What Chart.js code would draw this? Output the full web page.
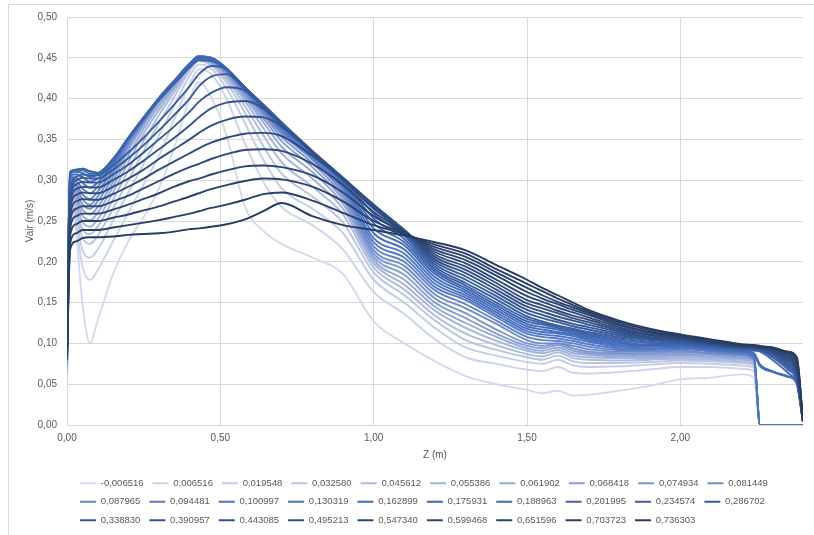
<!DOCTYPE html>
<html>
<head>
<meta charset="utf-8">
<script src="https://cdn.jsdelivr.net/npm/chart.js@4.4.1/dist/chart.umd.min.js"></script>
<style>
  html, body { margin: 0; padding: 0; background: #ffffff; overflow: hidden; }
  #wrap { position: relative; width: 814px; height: 535px; }
  #frame { position: absolute; left: 8px; top: 4px; width: 820px; height: 560px; border: 1px solid #d9d9d9; box-sizing: border-box; pointer-events: none; }
  canvas { position: absolute; left: 0; top: 0; }
</style>
</head>
<body>
<div id="wrap">
  <div id="frame"></div>
  <canvas id="c" width="814" height="535"></canvas>
</div>
<script>
// Z positions (m) shared by all series
const Z = [0, 0.01, 0.03, 0.05, 0.075, 0.1, 0.15, 0.2, 0.25, 0.3, 0.35, 0.4, 0.43, 0.47, 0.52, 0.58, 0.64, 0.7, 0.8, 0.9, 1.0, 1.1, 1.2, 1.3, 1.4, 1.5, 1.55, 1.6, 1.65, 1.7, 1.8, 1.9, 2.0, 2.1, 2.2, 2.24, 2.26, 2.3, 2.35, 2.38, 2.4];

// Series labels (legend)
const LABELS = ['-0,006516','0,006516','0,019548','0,032580','0,045612','0,055386','0,061902','0,068418','0,074934','0,081449',
  '0,087965','0,094481','0,100997','0,130319','0,162899','0,175931','0,188963','0,201995','0,234574','0,286702',
  '0,338830','0,390957','0,443085','0,495213','0,547340','0,599468','0,651596','0,703723','0,736303'];

// Vair (m/s) per series
const v00 = [0.050,0.270,0.235,0.150,0.100,0.128,0.185,0.225,0.255,0.290,0.340,0.400,0.420,0.402,0.355,0.268,0.238,0.222,0.205,0.185,0.127,0.100,0.078,0.060,0.050,0.043,0.039,0.042,0.036,0.037,0.042,0.048,0.056,0.058,0.062,0.058,0,0,0,0,0];
const v01 = [0.055,0.275,0.245,0.195,0.178,0.190,0.225,0.260,0.295,0.330,0.375,0.418,0.436,0.430,0.400,0.345,0.298,0.267,0.245,0.215,0.163,0.136,0.105,0.083,0.075,0.068,0.066,0.071,0.064,0.063,0.065,0.068,0.071,0.071,0.069,0.066,0,0,0,0,0];
const v02 = [0.060,0.278,0.252,0.215,0.205,0.215,0.250,0.285,0.320,0.355,0.392,0.428,0.442,0.437,0.413,0.370,0.325,0.290,0.265,0.235,0.178,0.150,0.119,0.095,0.085,0.077,0.075,0.080,0.073,0.071,0.072,0.074,0.076,0.075,0.073,0.070,0,0,0,0,0];
const v03 = [0.062,0.280,0.258,0.230,0.222,0.232,0.265,0.300,0.336,0.370,0.402,0.434,0.446,0.441,0.420,0.383,0.342,0.308,0.280,0.248,0.187,0.159,0.128,0.104,0.092,0.083,0.080,0.085,0.078,0.076,0.076,0.077,0.079,0.078,0.076,0.073,0,0,0,0,0];
const v04 = [0.065,0.283,0.264,0.240,0.234,0.243,0.276,0.312,0.348,0.380,0.408,0.437,0.448,0.443,0.424,0.391,0.355,0.322,0.292,0.258,0.193,0.166,0.134,0.112,0.098,0.087,0.084,0.089,0.082,0.080,0.079,0.080,0.081,0.080,0.078,0.075,0,0,0,0,0];
const v05 = [0.068,0.286,0.270,0.249,0.243,0.252,0.285,0.322,0.357,0.386,0.412,0.439,0.449,0.444,0.427,0.397,0.364,0.333,0.302,0.265,0.198,0.172,0.140,0.119,0.103,0.091,0.088,0.092,0.085,0.083,0.082,0.082,0.083,0.082,0.080,0.077,0,0,0,0,0];
const v06 = [0.070,0.289,0.276,0.257,0.251,0.260,0.292,0.330,0.363,0.391,0.415,0.440,0.450,0.445,0.429,0.401,0.371,0.341,0.310,0.271,0.202,0.178,0.145,0.125,0.108,0.094,0.091,0.095,0.088,0.086,0.084,0.084,0.085,0.084,0.082,0.079,0,0,0,0,0];
const v07 = [0.072,0.292,0.281,0.264,0.258,0.267,0.298,0.337,0.368,0.395,0.418,0.441,0.451,0.446,0.431,0.404,0.376,0.348,0.316,0.276,0.206,0.184,0.150,0.131,0.112,0.097,0.094,0.098,0.091,0.088,0.086,0.086,0.087,0.086,0.083,0.080,0,0,0,0,0];
const v08 = [0.075,0.295,0.286,0.271,0.265,0.274,0.304,0.342,0.371,0.398,0.420,0.442,0.451,0.447,0.432,0.406,0.380,0.353,0.321,0.280,0.210,0.190,0.155,0.137,0.117,0.100,0.097,0.100,0.094,0.090,0.088,0.088,0.089,0.088,0.085,0.082,0,0,0,0,0];
const v09 = [0.078,0.298,0.291,0.277,0.270,0.280,0.309,0.345,0.372,0.399,0.421,0.443,0.452,0.448,0.433,0.408,0.383,0.357,0.325,0.284,0.214,0.195,0.160,0.143,0.124,0.104,0.100,0.100,0.097,0.093,0.090,0.090,0.091,0.088,0.086,0.080,0,0,0,0,0];
const v10 = [0.080,0.300,0.295,0.283,0.277,0.286,0.313,0.347,0.374,0.400,0.422,0.443,0.452,0.449,0.434,0.409,0.385,0.360,0.327,0.288,0.219,0.200,0.165,0.148,0.128,0.108,0.104,0.103,0.100,0.096,0.092,0.092,0.093,0.090,0.087,0.082,0,0,0,0,0];
const v11 = [0.082,0.302,0.299,0.290,0.284,0.292,0.317,0.349,0.375,0.401,0.422,0.443,0.452,0.450,0.435,0.410,0.387,0.362,0.329,0.291,0.224,0.205,0.169,0.153,0.132,0.112,0.108,0.106,0.103,0.099,0.094,0.093,0.094,0.091,0.088,0.083,0,0,0,0,0];
const v12 = [0.085,0.304,0.303,0.297,0.291,0.297,0.320,0.350,0.376,0.401,0.422,0.443,0.452,0.450,0.436,0.411,0.388,0.364,0.331,0.294,0.229,0.210,0.173,0.156,0.135,0.115,0.111,0.109,0.106,0.102,0.096,0.094,0.095,0.092,0.089,0.085,0,0,0,0,0];
const v13 = [0.088,0.306,0.307,0.304,0.298,0.302,0.322,0.351,0.377,0.401,0.422,0.442,0.451,0.450,0.437,0.412,0.389,0.366,0.332,0.296,0.235,0.215,0.177,0.159,0.138,0.118,0.114,0.112,0.109,0.104,0.098,0.096,0.096,0.093,0.090,0.086,0.072,0.065,0.059,0.050,0.004];
const v14 = [0.090,0.308,0.310,0.309,0.304,0.306,0.324,0.352,0.377,0.400,0.421,0.442,0.451,0.450,0.437,0.413,0.390,0.368,0.333,0.298,0.241,0.220,0.181,0.162,0.141,0.121,0.117,0.114,0.111,0.106,0.100,0.097,0.097,0.094,0.091,0.088,0.074,0.066,0.060,0.052,0.004];
const v15 = [0.092,0.309,0.312,0.312,0.308,0.308,0.325,0.352,0.377,0.400,0.421,0.441,0.450,0.449,0.437,0.414,0.391,0.369,0.334,0.300,0.247,0.224,0.185,0.165,0.144,0.124,0.120,0.117,0.113,0.108,0.102,0.098,0.098,0.095,0.092,0.091,0.090,0.080,0.064,0.050,0.004];
const v16 = [0.094,0.310,0.313,0.314,0.311,0.309,0.326,0.352,0.376,0.399,0.420,0.440,0.449,0.448,0.437,0.414,0.392,0.370,0.335,0.301,0.253,0.228,0.188,0.168,0.147,0.127,0.123,0.119,0.115,0.110,0.104,0.100,0.099,0.096,0.093,0.092,0.091,0.083,0.068,0.053,0.004];
const v17 = [0.096,0.310,0.313,0.314,0.311,0.309,0.326,0.351,0.375,0.398,0.418,0.438,0.447,0.446,0.436,0.414,0.393,0.371,0.336,0.302,0.259,0.232,0.191,0.171,0.150,0.130,0.125,0.121,0.117,0.112,0.106,0.102,0.100,0.097,0.0935,0.0925,0.092,0.085,0.070,0.056,0.004];
const v18 = [0.100,0.285,0.304,0.307,0.306,0.306,0.318,0.334,0.352,0.372,0.393,0.415,0.430,0.440,0.436,0.413,0.391,0.369,0.334,0.300,0.266,0.235,0.194,0.174,0.154,0.133,0.127,0.122,0.118,0.114,0.108,0.104,0.101,0.097,0.094,0.093,0.092,0.086,0.072,0.055,0.004];
const v19 = [0.098,0.280,0.300,0.303,0.302,0.302,0.313,0.327,0.343,0.361,0.380,0.400,0.415,0.427,0.430,0.412,0.391,0.369,0.334,0.301,0.268,0.237,0.197,0.178,0.158,0.137,0.131,0.126,0.121,0.117,0.110,0.105,0.102,0.098,0.094,0.093,0.092,0.087,0.074,0.058,0.004];
const v20 = [0.096,0.274,0.295,0.298,0.297,0.297,0.307,0.319,0.334,0.350,0.366,0.384,0.396,0.407,0.414,0.410,0.390,0.369,0.335,0.302,0.270,0.238,0.200,0.182,0.162,0.141,0.135,0.129,0.124,0.120,0.112,0.106,0.103,0.098,0.095,0.094,0.093,0.088,0.076,0.061,0.004];
const v21 = [0.094,0.268,0.289,0.292,0.291,0.291,0.300,0.311,0.324,0.338,0.352,0.367,0.377,0.388,0.395,0.397,0.388,0.368,0.335,0.303,0.270,0.239,0.203,0.186,0.166,0.145,0.139,0.133,0.128,0.123,0.114,0.107,0.104,0.099,0.095,0.094,0.093,0.089,0.078,0.064,0.004];
const v22 = [0.092,0.262,0.282,0.285,0.284,0.284,0.292,0.302,0.313,0.326,0.338,0.350,0.358,0.367,0.374,0.378,0.377,0.366,0.334,0.303,0.268,0.239,0.206,0.190,0.170,0.149,0.143,0.137,0.131,0.126,0.116,0.108,0.105,0.100,0.096,0.095,0.094,0.090,0.080,0.067,0.004];
const v23 = [0.090,0.255,0.274,0.277,0.276,0.276,0.283,0.292,0.302,0.313,0.323,0.333,0.339,0.346,0.352,0.357,0.358,0.354,0.330,0.301,0.265,0.238,0.209,0.194,0.174,0.153,0.147,0.140,0.134,0.129,0.118,0.110,0.106,0.100,0.096,0.095,0.094,0.091,0.082,0.070,0.004];
const v24 = [0.088,0.248,0.265,0.268,0.268,0.268,0.274,0.281,0.290,0.299,0.308,0.316,0.320,0.326,0.332,0.337,0.338,0.336,0.320,0.294,0.261,0.237,0.212,0.198,0.178,0.158,0.151,0.144,0.138,0.132,0.120,0.111,0.107,0.101,0.097,0.096,0.095,0.092,0.084,0.073,0.004];
const v25 = [0.086,0.240,0.256,0.259,0.259,0.259,0.264,0.270,0.277,0.284,0.292,0.299,0.302,0.307,0.312,0.317,0.318,0.316,0.306,0.285,0.256,0.236,0.215,0.202,0.183,0.163,0.155,0.148,0.141,0.135,0.122,0.113,0.108,0.102,0.097,0.096,0.095,0.093,0.086,0.076,0.004];
const v26 = [0.084,0.232,0.246,0.250,0.250,0.250,0.254,0.258,0.263,0.268,0.274,0.280,0.284,0.289,0.294,0.299,0.302,0.301,0.292,0.274,0.250,0.235,0.218,0.206,0.187,0.168,0.159,0.151,0.144,0.137,0.124,0.114,0.109,0.103,0.098,0.097,0.096,0.094,0.088,0.079,0.004];
const v27 = [0.082,0.222,0.235,0.239,0.239,0.239,0.242,0.245,0.248,0.251,0.255,0.259,0.262,0.266,0.270,0.276,0.283,0.285,0.275,0.260,0.245,0.234,0.221,0.210,0.191,0.173,0.164,0.155,0.147,0.139,0.126,0.116,0.110,0.104,0.098,0.097,0.096,0.095,0.089,0.081,0.004];
const v28 = [0.080,0.215,0.225,0.229,0.230,0.230,0.231,0.233,0.234,0.235,0.237,0.240,0.241,0.243,0.246,0.252,0.262,0.272,0.256,0.245,0.239,0.232,0.224,0.214,0.196,0.178,0.168,0.159,0.150,0.141,0.128,0.118,0.111,0.105,0.099,0.098,0.097,0.095,0.090,0.083,0.004];

const SERIES = [v00,v01,v02,v03,v04,v05,v06,v07,v08,v09,v10,v11,v12,v13,v14,v15,v16,v17,v18,v19,v20,v21,v22,v23,v24,v25,v26,v27,v28];

// Styling: monochromatic blue ramp, light to dark
const COLORS = ['#d4daee','#ccd3eb','#c3cce8','#b9c4e4','#aebbe0','#a2b2dc','#96a8d8','#899ed4','#7c94d0','#6f8acc',
  '#6282c9','#577bc6','#4d75c3','#4670bf','#436cba','#4169b4','#3f66ae','#3d62a8','#3a5fa1','#385b9a',
  '#365793','#34538c','#325085','#304c7f','#2e4979','#2c4573','#2a426d','#283f68','#263c63'];

const FONT = "'Liberation Sans', Arial, sans-serif";
const TXT = '#595959';
const GRID = '#d9d9d9';

const datasets = SERIES.map((vals, i) => ({
  label: LABELS[i],
  data: Z.map((z, k) => ({ x: z, y: vals[k] })),
  borderColor: COLORS[i],
  backgroundColor: COLORS[i],
  borderWidth: 1.9,
  pointRadius: 0,
  fill: false,
  cubicInterpolationMode: 'monotone',
  order: SERIES.length - i
}));

const fmt = v => Number(v).toFixed(2).replace('.', ',');

const legendShift = {
  id: 'legendShift',
  afterLayout(chart) {
    const l = chart.legend;
    if (l) { l.left += 4; l.right += 4; }
  }
};

new Chart(document.getElementById('c'), {
  type: 'line',
  data: { datasets },
  plugins: [legendShift],
  options: {
    responsive: false,
    animation: false,
    devicePixelRatio: 1,
    layout: { padding: { left: 0, right: 11, top: 17, bottom: 0 } },
    plugins: {
      tooltip: { enabled: false },
      legend: {
        position: 'bottom',
        align: 'start',
        fullSize: false,
        labels: {
          usePointStyle: true,
          pointStyle: 'line',
          pointStyleWidth: 16,
          padding: 9,
          color: TXT,
          font: { family: FONT, size: 9.5 },
          sort: (a, b) => a.datasetIndex - b.datasetIndex
        }
      }
    },
    scales: {
      x: {
        type: 'linear',
        min: 0,
        max: 2.4,
        ticks: {
          stepSize: 0.5,
          color: TXT,
          font: { family: FONT, size: 10 },
          padding: 7,
          maxRotation: 0,
          callback: v => (v > 2.01 ? '' : fmt(v))
        },
        grid: {
          color: ctx => (ctx.tick && ctx.tick.value > 2.01 ? 'rgba(0,0,0,0)' : GRID),
          drawTicks: false,
          lineWidth: 1
        },
        border: { color: GRID },
        title: {
          display: true,
          text: 'Z (m)',
          color: TXT,
          font: { family: FONT, size: 10 },
          padding: { top: 0, bottom: 8.5 }
        },
        afterFit: s => { s.height = 44.5; }
      },
      y: {
        min: 0,
        max: 0.5,
        ticks: {
          stepSize: 0.05,
          color: TXT,
          font: { family: FONT, size: 10 },
          padding: 10,
          callback: v => fmt(v)
        },
        grid: { color: GRID, drawTicks: false, lineWidth: 1 },
        border: { color: GRID },
        title: {
          display: true,
          text: 'Vair (m/s)',
          color: TXT,
          font: { family: FONT, size: 10 },
          padding: { top: 24, bottom: 0 }
        },
        afterFit: s => { s.width = 67; }
      }
    }
  }
});
</script>
</body>
</html>
